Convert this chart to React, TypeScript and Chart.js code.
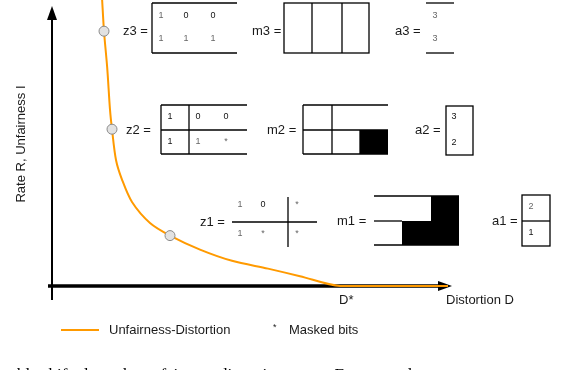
import React, { useEffect, useRef } from "react";
import { Chart, registerables } from "chart.js";

Chart.register(...registerables);

// Unfairness-distortion curve (Distortion D, Rate R / Unfairness I), normalised axes 0..1
const distortion = [0.125, 0.13, 0.138, 0.145, 0.15, 0.16, 0.175, 0.2, 0.245, 0.295, 0.37, 0.45, 0.54, 0.62, 0.72, 0.99];
const rate = [1.03, 0.91, 0.78, 0.63, 0.56, 0.45, 0.38, 0.3, 0.225, 0.18, 0.13, 0.09, 0.062, 0.035, 0, 0];

// Highlighted operating points z3, z2, z1
const markerD = [0.13, 0.15, 0.295];
const markerR = [0.91, 0.56, 0.18];

const dStar = 0.72;
const dStarLabel = "D*";
const xAxisTitle = "Distortion D";
const yAxisTitle = "Rate R, Unfairness I";
const lineLegend = "Unfairness-Distortion";
const maskLegend = "Masked bits";
const caption = "stable shift along the unfairness-distortion curve. For exampl";

const z3 = [["1", "0", "0"], ["1", "1", "1"]];
const z2 = [["1", "0", "0"], ["1", "1", "*"]];
const z1 = [["1", "0", "*"], ["1", "*", "*"]];
const a3 = ["3", "3"];
const a2 = ["3", "2"];
const a1 = ["2", "1"];

const ORANGE = "#FF9A00";
const SANS = "'Liberation Sans', Arial, sans-serif";

function line(ctx: CanvasRenderingContext2D, x1: number, y1: number, x2: number, y2: number) {
  ctx.beginPath();
  ctx.moveTo(x1, y1);
  ctx.lineTo(x2, y2);
  ctx.stroke();
}

function cells(ctx: CanvasRenderingContext2D, rows: string[][], xs: number[], ys: number[], dark: (r: number, c: number) => boolean) {
  ctx.font = `9px ${SANS}`;
  ctx.textAlign = "center";
  ctx.textBaseline = "middle";
  rows.forEach((row, r) =>
    row.forEach((v, c) => {
      ctx.fillStyle = dark(r, c) ? "#111" : "#666";
      ctx.fillText(v, xs[c], ys[r]);
    })
  );
}

const axesPlugin = {
  id: "axesPlugin",
  beforeDatasetsDraw(chart: any) {
    const ctx = chart.ctx as CanvasRenderingContext2D;
    const sx = chart.scales.x;
    const sy = chart.scales.y;
    const x0 = sx.getPixelForValue(0);
    const y0 = sy.getPixelForValue(0);
    const yTip = sy.getPixelForValue(1);
    const xTip = sx.getPixelForValue(1);
    ctx.save();
    ctx.strokeStyle = "#000";
    ctx.fillStyle = "#000";
    ctx.lineWidth = 2;
    line(ctx, x0, y0 + 14, x0, yTip + 12);
    ctx.beginPath();
    ctx.moveTo(x0, yTip);
    ctx.lineTo(x0 - 5, yTip + 14);
    ctx.lineTo(x0 + 5, yTip + 14);
    ctx.closePath();
    ctx.fill();
    ctx.lineWidth = 3.5;
    line(ctx, x0 - 4, y0, xTip - 12, y0);
    ctx.beginPath();
    ctx.moveTo(xTip, y0);
    ctx.lineTo(xTip - 14, y0 - 5);
    ctx.lineTo(xTip - 14, y0 + 5);
    ctx.closePath();
    ctx.fill();
    ctx.restore();
  },
};

const annotationPlugin = {
  id: "annotationPlugin",
  afterDraw(chart: any) {
    const ctx = chart.ctx as CanvasRenderingContext2D;
    const sx = chart.scales.x;
    const sy = chart.scales.y;
    const y0 = sy.getPixelForValue(0);
    ctx.save();

    // labels
    ctx.fillStyle = "#1a1a1a";
    ctx.font = `13px ${SANS}`;
    ctx.textAlign = "left";
    ctx.textBaseline = "middle";
    const labels: [string, number, number][] = [
      ["z3 =", 123, 31], ["m3 =", 252, 31], ["a3 =", 395, 31],
      ["z2 =", 126, 130], ["m2 =", 267, 130], ["a2 =", 415, 130],
      ["z1 =", 200, 222], ["m1 =", 337, 221], ["a1 =", 492, 221],
    ];
    labels.forEach(([t, x, y]) => ctx.fillText(t, x, y));

    ctx.fillText(xAxisTitle, 446, y0 + 14);
    ctx.fillText(dStarLabel, sx.getPixelForValue(dStar) - 1, y0 + 14);

    ctx.save();
    ctx.translate(21, 144);
    ctx.rotate(-Math.PI / 2);
    ctx.textAlign = "center";
    ctx.fillText(yAxisTitle, 0, 0);
    ctx.restore();

    // legend
    ctx.strokeStyle = ORANGE;
    ctx.lineWidth = 2;
    line(ctx, 61, 330, 99, 330);
    ctx.fillStyle = "#1a1a1a";
    ctx.fillText(lineLegend, 109, 330);
    ctx.fillText(maskLegend, 289, 330);
    ctx.font = `9px ${SANS}`;
    ctx.fillText("*", 273, 328);

    // matrices
    ctx.strokeStyle = "#000";
    ctx.lineWidth = 1.3;
    ctx.fillStyle = "#000";

    // z3
    line(ctx, 152, 3, 152, 53);
    line(ctx, 152, 3, 237, 3);
    line(ctx, 152, 53, 237, 53);
    cells(ctx, z3, [161, 186, 213], [16, 39], (r, c) => c > 0 && r === 0);
    // m3
    ctx.strokeRect(284, 3, 85, 50);
    line(ctx, 312, 3, 312, 53);
    line(ctx, 342, 3, 342, 53);
    // a3
    line(ctx, 426, 3, 454, 3);
    line(ctx, 426, 53, 454, 53);
    cells(ctx, [[a3[0]], [a3[1]]], [435], [16, 39], () => false);

    // z2
    line(ctx, 161, 105, 161, 154);
    line(ctx, 189, 105, 189, 154);
    line(ctx, 161, 105, 247, 105);
    line(ctx, 161, 130, 247, 130);
    line(ctx, 161, 154, 247, 154);
    cells(ctx, z2, [170, 198, 226], [117, 142], (r, c) => c === 0 || (r === 0 && c > 0));
    // m2
    line(ctx, 303, 105, 303, 154);
    line(ctx, 332, 105, 332, 154);
    line(ctx, 360, 130, 360, 154);
    line(ctx, 303, 105, 388, 105);
    line(ctx, 303, 130, 388, 130);
    line(ctx, 303, 154, 388, 154);
    ctx.fillStyle = "#000";
    ctx.fillRect(360, 130, 28, 24);
    // a2
    ctx.strokeRect(446, 106, 27, 49);
    cells(ctx, [[a2[0]], [a2[1]]], [454], [117, 143], () => true);

    // z1
    line(ctx, 232, 222, 317, 222);
    line(ctx, 288, 197, 288, 247);
    cells(ctx, z1, [240, 263, 297], [205, 234], (r, c) => c === 1 && r === 0);
    // m1
    line(ctx, 374, 196, 459, 196);
    line(ctx, 374, 221, 402, 221);
    line(ctx, 374, 245, 459, 245);
    ctx.fillStyle = "#000";
    ctx.fillRect(431, 196, 28, 25);
    ctx.fillRect(402, 221, 57, 24);
    // a1
    ctx.strokeRect(522, 195, 28, 51);
    line(ctx, 522, 221, 550, 221);
    cells(ctx, [[a1[0]], [a1[1]]], [531], [207, 233], (r) => r === 1);

    // clipped caption
    ctx.fillStyle = "#000";
    ctx.font = "17px 'Liberation Serif', 'Times New Roman', serif";
    ctx.textAlign = "left";
    ctx.textBaseline = "alphabetic";
    ctx.fillText(caption, -2, 380);

    ctx.restore();
  },
};

export default function App() {
  const ref = useRef<HTMLCanvasElement | null>(null);
  useEffect(() => {
    if (!ref.current) return;
    const chart = new Chart(ref.current, {
      type: "scatter",
      data: {
        datasets: [
          {
            label: "points",
            data: markerD.map((d, i) => ({ x: d, y: markerR[i] })),
            pointRadius: 5,
            pointBackgroundColor: "#e2e2e2",
            pointBorderColor: "#8a8a8a",
            pointBorderWidth: 1,
            showLine: false,
            order: 0,
            clip: false as any,
          },
          {
            label: lineLegend,
            data: distortion.map((d, i) => ({ x: d, y: rate[i] })),
            showLine: true,
            borderColor: ORANGE,
            borderWidth: 2,
            pointRadius: 0,
            tension: 0.3,
            order: 1,
            clip: false as any,
          },
        ],
      },
      options: {
        animation: false,
        responsive: false,
        devicePixelRatio: 1,
        layout: { padding: { left: 52, right: 130, top: 6, bottom: 84 } },
        scales: {
          x: { type: "linear", min: 0, max: 1, display: false },
          y: { type: "linear", min: 0, max: 1, display: false },
        },
        plugins: { legend: { display: false }, tooltip: { enabled: false } },
      },
      plugins: [axesPlugin, annotationPlugin],
    });
    return () => chart.destroy();
  }, []);
  return (
    <div style={{ position: "fixed", left: 0, top: 0, width: 582, height: 370, background: "#fff" }}>
      <canvas ref={ref} width={582} height={370} style={{ width: 582, height: 370, display: "block" }} />
    </div>
  );
}
